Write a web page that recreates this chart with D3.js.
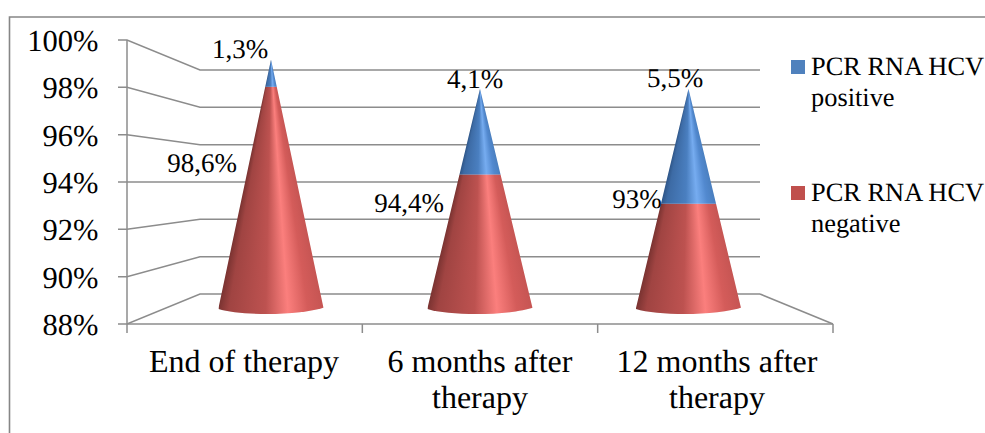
<!DOCTYPE html>
<html>
<head>
<meta charset="utf-8">
<script src="https://cdn.jsdelivr.net/npm/d3@7"></script>
<style>
body { margin: 0; background: #fff; }
text { font-family: "Liberation Serif", serif; fill: #000; text-rendering: geometricPrecision; }
</style>
</head>
<body>
<div id="chart"></div>
<script>
const categories = [["End of therapy"], ["6 months after", "therapy"], ["12 months after", "therapy"]];
const negative = [98.6, 94.4, 93];
const positive = [1.3, 4.1, 5.5];
const yTicks = [88, 90, 92, 94, 96, 98, 100];
const legendLabels = [["PCR RNA HCV", "positive"], ["PCR RNA HCV", "negative"]];

const width = 985;
const height = 433;
const gridColor = "#8c8c8c";

const svg = d3.select("#chart").append("svg")
    .attr("width", width)
    .attr("height", height)
    .style("display", "block");

// outer frame, bottom and right run off the picture
svg.append("path")
    .attr("d", "M9.5,433V17H985")
    .attr("fill", "none")
    .attr("stroke", "#868686")
    .attr("stroke-width", 1.6);

// front of the floor, back wall, and the plotted height of the cones
const yFront = d3.scaleLinear().domain([88, 100]).range([324, 40]);
const yBack = d3.scaleLinear().domain([88, 100]).range([294, 70]);
const yCone = d3.scaleLinear().domain([88, 100]).range([308, 57.5]);
const xFront = d3.scaleLinear().domain([0, 3]).range([127, 833]);
const xCone = d3.scaleLinear().domain([0, 1, 2]).range([271, 480, 688.5]);
const baseHalf = 52.5;

const grid = svg.append("g")
    .attr("fill", "none")
    .attr("stroke", gridColor)
    .attr("stroke-width", 1.5);

yTicks.forEach(t => {
    grid.append("path")
        .attr("d", `M118,${yFront(t)}H127L200,${yBack(t)}H760`);
});
grid.append("path").attr("d", `M760,${yBack(88)}L833,324`);
grid.append("path").attr("d", `M127,${yFront(100)}V333`);
grid.append("path").attr("d", "M127,324H833");
d3.range(1, 4).forEach(i => {
    grid.append("path").attr("d", `M${xFront(i)},324V333`);
});

svg.append("g")
    .selectAll("text")
    .data(yTicks)
    .enter().append("text")
    .attr("x", 98.5)
    .attr("y", d => yFront(d) + 11)
    .attr("text-anchor", "end")
    .style("font-size", "30.5px")
    .text(d => d + "%");

// shading across the cone, dark on the left with the highlight right of centre
const stops = [0, 0.1, 0.45, 0.66, 0.85, 1];
const redStops = ["#7a3331", "#a04442", "#bd5250", "#fb7f7d", "#d45c5a", "#c65553"];
const blueStops = ["#2f5688", "#3d6ba5", "#4a7fc0", "#76acf0", "#5289cf", "#4a7fbf"];

const defs = svg.append("defs");

function addGradient(id, colors) {
    const grad = defs.append("linearGradient").attr("id", id);
    stops.forEach((s, i) => {
        grad.append("stop").attr("offset", s).attr("stop-color", colors[i]);
    });
}
addGradient("redShade", redStops);
addGradient("blueShade", blueStops);

function drawSection(parent, id, cx, from, to, fill) {
    // width shrinks linearly to the tip, one thin row per pixel so the highlight narrows too
    const tip = negative[id] + positive[id];
    const yTip = yCone(tip);
    const yBase = yCone(88);
    const half = y => baseHalf * (y - yTip) / (yBase - yTip);
    const yLow = yCone(from);
    const yHigh = yCone(to);
    const g = parent.append("g");
    if (from === 88) {
        // rounded foot of the cone
        const clip = `foot-${id}`;
        defs.append("clipPath").attr("id", clip).append("path")
            .attr("d", `M${cx - baseHalf - 2},0H${cx + baseHalf + 2}V${yBase - 1}`
                + `C${cx + 30},${yBase + 8} ${cx - 30},${yBase + 8} ${cx - baseHalf},${yBase + 1}Z`);
        g.attr("clip-path", `url(#${clip})`);
    }
    const bottom = from === 88 ? yBase + 8 : yLow;
    const rows = d3.range(Math.floor(yHigh), Math.ceil(bottom));
    g.selectAll("rect")
        .data(rows)
        .enter().append("rect")
        .attr("x", y => cx - half(Math.min(y + 0.5, yBase)))
        .attr("width", y => 2 * half(Math.min(y + 0.5, yBase)))
        .attr("y", y => Math.max(y, yHigh))
        .attr("height", y => Math.min(y + 1, bottom) - Math.max(y, yHigh) + 0.1)
        .attr("fill", fill);
}

negative.forEach((n, i) => {
    const g = svg.append("g");
    drawSection(g, i, xCone(i), 88, n, "url(#redShade)");
    drawSection(g, i, xCone(i), n, n + positive[i], "url(#blueShade)");
});

const fmt = v => String(v).replace(".", ",") + "%";
const negLabelX = [202, 409, 637];
const negLabelY = [172, 212, 208];
const posLabelX = [240, 475, 675];
const posLabelY = [58, 88, 87];

svg.append("g").selectAll("text")
    .data(negative)
    .enter().append("text")
    .attr("x", (d, i) => negLabelX[i])
    .attr("y", (d, i) => negLabelY[i])
    .attr("text-anchor", "middle")
    .style("font-size", "27px")
    .text(fmt);

svg.append("g").selectAll("text")
    .data(positive)
    .enter().append("text")
    .attr("x", (d, i) => posLabelX[i])
    .attr("y", (d, i) => posLabelY[i])
    .attr("text-anchor", "middle")
    .style("font-size", "27px")
    .text(fmt);

// category labels
const categoryX = [244, 480, 717];
categories.forEach((lines, i) => {
    lines.forEach((line, j) => {
        svg.append("text")
            .attr("x", categoryX[i])
            .attr("y", 372 + j * 36)
            .attr("text-anchor", "middle")
            .style("font-size", "32px")
            .text(line);
    });
});

// legend
const legendColors = ["#4f81bd", "#c0504d"];
const legendY = [60, 186];
legendLabels.forEach((lines, i) => {
    svg.append("rect")
        .attr("x", 791)
        .attr("y", legendY[i])
        .attr("width", 14)
        .attr("height", 14)
        .attr("fill", legendColors[i]);
    lines.forEach((line, j) => {
        svg.append("text")
            .attr("x", 811)
            .attr("y", legendY[i] + 15 + j * 30.5)
            .style("font-size", "26.4px")
            .text(line);
    });
});
</script>
</body>
</html>
